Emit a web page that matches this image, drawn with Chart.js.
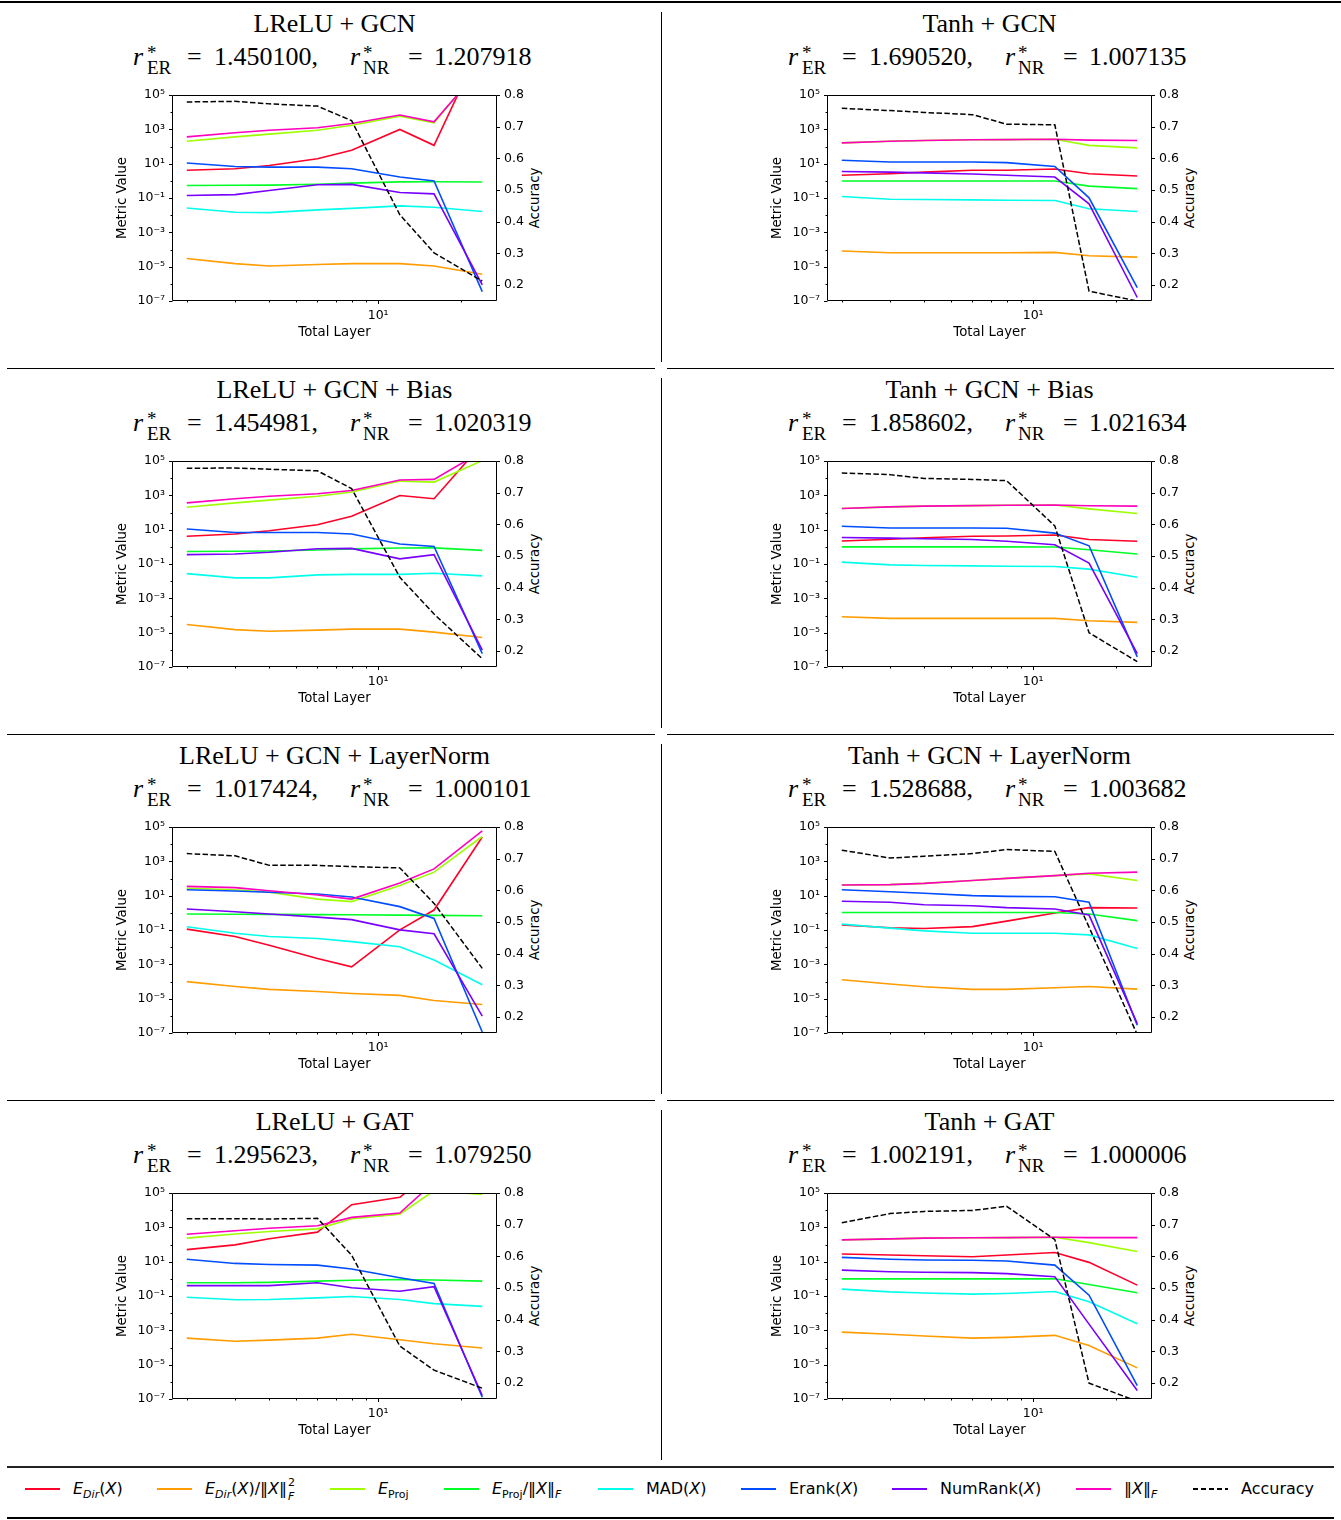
<!DOCTYPE html>
<html>
<head>
<meta charset="utf-8">
<script src="https://cdn.jsdelivr.net/npm/chart.js@4.4.1/dist/chart.umd.min.js"></script>
<style>
html,body{margin:0;padding:0;background:#fff;}
body{width:1341px;height:1520px;position:relative;overflow:hidden;font-family:"DejaVu Sans",sans-serif;color:#000;}
.rule{position:absolute;background:#000;}
.ttl{position:absolute;font-family:"Liberation Serif",serif;font-size:26px;white-space:nowrap;line-height:30px;height:30px;text-align:center;width:400px;}
.rl{position:absolute;font-family:"Liberation Serif",serif;font-size:26px;white-space:nowrap;line-height:30px;}
.sb{position:absolute;font-family:"Liberation Serif",serif;font-size:19px;line-height:20px;white-space:nowrap;}
.acc{position:absolute;font-size:13.3px;line-height:16px;white-space:nowrap;transform:translate(-50%,-50%) rotate(-90deg);}
canvas{position:absolute;}
.lg{position:absolute;font-size:16px;line-height:20px;white-space:nowrap;}
.lg sub{font-size:11px;vertical-align:-4px;line-height:0;}
.st{display:inline-block;position:relative;width:9px;height:14px;}
.st .p{position:absolute;left:1px;top:-7px;font-size:11px;}
.st .q{position:absolute;left:1px;top:7px;font-size:11px;font-style:italic;}
.ln{position:absolute;height:1.6px;width:35px;}
</style>
</head>
<body>
<script>
// ---------------- data ----------------
const LAYERS = [2, 3, 4, 6, 8, 12, 16, 24];
const PANEL_TITLES = ['LReLU + GCN', 'Tanh + GCN', 'LReLU + GCN + Bias', 'Tanh + GCN + Bias',
  'LReLU + GCN + LayerNorm', 'Tanh + GCN + LayerNorm', 'LReLU + GAT', 'Tanh + GAT'];
const R_ER = ['1.450100', '1.690520', '1.454981', '1.858602', '1.017424', '1.528688', '1.295623', '1.002191'];
const R_NR = ['1.207918', '1.007135', '1.020319', '1.021634', '1.000101', '1.003682', '1.079250', '1.000006'];
const X_TICKS = [2, 3, 4, 5, 6, 7, 8, 9, 10, 20];
const Y_DECADES = [-7, -6, -5, -4, -3, -2, -1, 0, 1, 2, 3, 4, 5];
const ACC_TICKS = [0.2, 0.3, 0.4, 0.5, 0.6, 0.7, 0.8];

const E_DIR = [
  [4.1, 5.1, 7.9, 19.5, 60, 980, 117, 1.1e8],
  [2.1, 2.6, 3.2, 4.1, 4.1, 4.9, 2.6, 1.9],
  [4.1, 5.6, 8.7, 19.5, 60, 980, 630, 1.0e6],
  [2.2, 2.75, 3.4, 4.1, 4.3, 4.9, 2.7, 2.1],
  [0.112, 0.042, 0.0129, 0.0022, 7.2e-4, 0.102, 1.45, 2.6e4],
  [0.2, 0.135, 0.123, 0.158, 0.33, 0.98, 2.0, 1.9],
  [50, 95, 214, 525, 2.1e4, 5.6e4, 2.3e6, 3.2e7],
  [28, 24.5, 22, 19.5, 24.5, 34, 9.1, 0.43]
];
const E_DIR_NORM = [
  [3.0e-5, 1.5e-5, 1.1e-5, 1.35e-5, 1.5e-5, 1.5e-5, 1.1e-5, 3.6e-6],
  [8.1e-5, 6.5e-5, 6.5e-5, 6.5e-5, 6.5e-5, 6.8e-5, 4.3e-5, 3.6e-5],
  [3.0e-5, 1.5e-5, 1.2e-5, 1.4e-5, 1.6e-5, 1.6e-5, 1.07e-5, 5.2e-6],
  [8.5e-5, 6.8e-5, 6.8e-5, 6.8e-5, 6.8e-5, 6.8e-5, 4.9e-5, 4.0e-5],
  [9.8e-5, 5.1e-5, 3.5e-5, 2.6e-5, 2.0e-5, 1.55e-5, 7.8e-6, 4.6e-6],
  [1.26e-4, 7.1e-5, 4.9e-5, 3.5e-5, 3.5e-5, 4.3e-5, 5.1e-5, 3.6e-5],
  [3.5e-4, 2.3e-4, 2.7e-4, 3.5e-4, 5.9e-4, 2.8e-4, 1.66e-4, 9.3e-5],
  [7.9e-4, 5.9e-4, 4.7e-4, 3.5e-4, 3.9e-4, 5.1e-4, 1.3e-4, 6.5e-6]
];
const E_PROJ = [
  [204, 363, 525, 891, 1740, 5900, 2400, 5.5e6],
  [162, 204, 224, 245, 251, 263, 117, 83],
  [204, 363, 525, 891, 1550, 6760, 5900, 1.05e5],
  [170, 214, 234, 251, 263, 275, 162, 87],
  [27, 22, 15.8, 6.3, 4.5, 39, 234, 2.8e4],
  [42, 44, 52, 76, 102, 148, 186, 76],
  [234, 407, 575, 813, 3160, 5900, 1.36e5, 8.1e4],
  [186, 214, 234, 245, 251, 263, 129, 39]
];
const E_PROJ_NORM = [
  [0.54, 0.55, 0.56, 0.63, 0.74, 0.87, 0.89, 0.85],
  [0.98, 0.98, 0.98, 0.98, 0.98, 0.98, 0.49, 0.35],
  [0.54, 0.55, 0.57, 0.66, 0.76, 0.85, 0.87, 0.62],
  [1.0, 1.0, 1.0, 1.0, 0.99, 0.98, 0.68, 0.38],
  [0.85, 0.83, 0.81, 0.79, 0.78, 0.74, 0.71, 0.68],
  [1.05, 1.05, 1.05, 1.05, 1.05, 1.05, 0.85, 0.35],
  [0.59, 0.59, 0.62, 0.74, 0.83, 0.91, 0.85, 0.74],
  [1.0, 1.0, 1.0, 1.0, 1.0, 1.0, 0.47, 0.155]
];
const MAD = [
  [0.026, 0.0148, 0.0141, 0.0204, 0.025, 0.0347, 0.0288, 0.0162],
  [0.123, 0.085, 0.081, 0.078, 0.074, 0.071, 0.0234, 0.0162],
  [0.0275, 0.0155, 0.0155, 0.0234, 0.025, 0.025, 0.0288, 0.0204],
  [0.129, 0.089, 0.081, 0.078, 0.074, 0.071, 0.05, 0.017],
  [0.155, 0.065, 0.042, 0.032, 0.021, 0.0107, 0.0018, 6.5e-5],
  [0.22, 0.129, 0.089, 0.065, 0.065, 0.065, 0.052, 0.0083],
  [0.085, 0.06, 0.063, 0.078, 0.093, 0.063, 0.036, 0.025],
  [0.25, 0.174, 0.151, 0.129, 0.141, 0.182, 0.046, 0.00245]
];
const ERANK = [
  [11, 6.9, 6.3, 6.3, 5.1, 1.66, 0.98, 3.5e-7],
  [15.8, 12.6, 12.6, 12.6, 11.5, 6.9, 0.102, 6.0e-7],
  [11, 6.9, 6.9, 6.9, 5.6, 1.45, 1.05, 6.0e-7],
  [15.8, 12.6, 12.6, 12.6, 12, 6.3, 1.15, 3.9e-7],
  [22, 18.6, 15.8, 12.6, 8.3, 2.3, 0.47, 1.15e-7],
  [22, 17, 13.8, 10, 9.1, 8.7, 4.1, 2.8e-7],
  [13.8, 7.9, 6.9, 6.3, 3.7, 1.15, 0.54, 1.26e-7],
  [17.8, 13.8, 12.6, 12, 11, 6.3, 0.112, 6.0e-7]
];
const NUMRANK = [
  [0.141, 0.158, 0.275, 0.59, 0.62, 0.21, 0.174, 8.7e-7],
  [3.5, 3.2, 2.9, 2.5, 2.1, 1.66, 0.046, 1.6e-7],
  [0.35, 0.38, 0.48, 0.78, 0.81, 0.2, 0.35, 9.5e-7],
  [3.5, 3.2, 2.95, 2.7, 2.1, 1.32, 0.112, 6.0e-7],
  [1.66, 1.15, 0.85, 0.56, 0.4, 0.102, 0.06, 9.5e-7],
  [4.7, 4.1, 2.95, 2.6, 2.0, 1.66, 0.74, 3.5e-7],
  [0.4, 0.4, 0.4, 0.59, 0.3, 0.19, 0.35, 1.6e-7],
  [3.2, 2.6, 2.4, 2.3, 2.0, 1.32, 0.0023, 3.1e-7]
];
const FRO_NORM = [
  [363, 631, 891, 1230, 2190, 6760, 2750, 4.8e6],
  [162, 204, 224, 245, 251, 263, 234, 224],
  [363, 631, 891, 1230, 1900, 7760, 8500, 3.7e5],
  [170, 214, 234, 251, 263, 275, 245, 234],
  [35, 29.5, 19.5, 11, 6.3, 55, 363, 5.9e4],
  [42, 44, 52, 76, 102, 148, 204, 234],
  [398, 631, 891, 1230, 3800, 6760, 4.4e5, 1e6],
  [186, 214, 234, 245, 251, 263, 251, 251]
];
const ACCURACY = [
  [0.778, 0.780, 0.772, 0.765, 0.719, 0.422, 0.302, 0.213],
  [0.758, 0.751, 0.745, 0.738, 0.708, 0.706, 0.181, 0.150],
  [0.777, 0.778, 0.774, 0.769, 0.713, 0.433, 0.317, 0.176],
  [0.762, 0.757, 0.745, 0.742, 0.738, 0.595, 0.258, 0.167],
  [0.716, 0.709, 0.679, 0.679, 0.675, 0.671, 0.559, 0.354],
  [0.727, 0.702, 0.708, 0.716, 0.729, 0.723, 0.484, 0.145],
  [0.719, 0.719, 0.718, 0.720, 0.604, 0.317, 0.241, 0.184],
  [0.706, 0.735, 0.742, 0.745, 0.758, 0.653, 0.200, 0.143]
];
const SERIES_NAMES = ['E_Dir(X)', 'E_Dir(X)/||X||_F^2', 'E_Proj', 'E_Proj/||X||_F', 'MAD(X)', 'Erank(X)', 'NumRank(X)', '||X||_F', 'Accuracy'];
const SERIES_DATA = [E_DIR, E_DIR_NORM, E_PROJ, E_PROJ_NORM, MAD, ERANK, NUMRANK, FRO_NORM];
const COLORS = ['#ff0029', '#ff9c00', '#9dff00', '#00ff27', '#00ffeb', '#004dff', '#7800ff', '#ff00bf'];

// ---------------- page helpers ----------------
function add(cls, html, left, top, extra) {
  const d = document.createElement('div');
  d.className = cls;
  d.innerHTML = html;
  d.style.left = left + 'px';
  d.style.top = top + 'px';
  if (extra) Object.assign(d.style, extra);
  document.body.appendChild(d);
  return d;
}
function rule(l, t, w, h, col) {
  add('rule', '', l, t, {width: w + 'px', height: h + 'px', background: col || '#000'});
}

const SUP = {'-': '\u207b', '0': '\u2070', '1': '\u00b9', '2': '\u00b2', '3': '\u00b3', '4': '\u2074', '5': '\u2075', '6': '\u2076', '7': '\u2077', '8': '\u2078', '9': '\u2079'};
function pow10Label(e) { return '10' + String(e).split('').map(ch => SUP[ch]).join(''); }

Chart.defaults.font.family = '"DejaVu Sans", sans-serif';
Chart.defaults.color = '#000';

const framePlugin = {
  id: 'frame',
  afterDraw(chart) {
    const {ctx, chartArea: a, scales} = chart;
    ctx.save();
    ctx.strokeStyle = '#000';
    ctx.lineWidth = 1;
    const L = Math.round(a.left) + 0.5, R = Math.round(a.right) - 0.5;
    const T = Math.round(a.top) + 0.5, B = Math.round(a.bottom) - 0.5;
    ctx.beginPath();
    ctx.rect(L, T, R - L, B - T);
    X_TICKS.forEach(v => {
      const px = Math.round(scales.x.getPixelForValue(v)) + 0.5;
      const len = v === 10 ? 3.5 : 2;
      ctx.moveTo(px, B); ctx.lineTo(px, B + len);
    });
    Y_DECADES.forEach(e => {
      const py = Math.round(scales.y.getPixelForValue(Math.pow(10, e))) + 0.5;
      const len = (e % 2 !== 0) ? 3.5 : 2;
      ctx.moveTo(L, py); ctx.lineTo(L - len, py);
    });
    ACC_TICKS.forEach(v => {
      const py = Math.round(scales.y2.getPixelForValue(v)) + 0.5;
      ctx.moveTo(R, py); ctx.lineTo(R + 3.5, py);
    });
    ctx.stroke();
    ctx.restore();
  }
};

const XMIN = 1.766, XMAX = 27.17;
const hiddenGrid = {display: true, drawOnChartArea: false, drawTicks: true, tickLength: 3.5, color: 'rgba(0,0,0,0)', tickColor: 'rgba(0,0,0,0)'};

function makePanel(p) {
  const r = Math.floor(p / 2), c = p % 2;
  const ox = 655 * c, oy = 366 * r;

  add('ttl', PANEL_TITLES[p], 334.5 + ox - 200, 9 + oy);
  add('rl', '<i>r</i>', 133 + ox, 42 + oy);
  add('sb', '*', 147 + ox, 43 + oy);
  add('sb', 'ER', 147 + ox, 58 + oy);
  add('rl', '=', 187 + ox, 42 + oy);
  add('rl', R_ER[p] + ',', 214 + ox, 42 + oy);
  add('rl', '<i>r</i>', 350 + ox, 42 + oy);
  add('sb', '*', 363 + ox, 43 + oy);
  add('sb', 'NR', 363 + ox, 58 + oy);
  add('rl', '=', 408 + ox, 42 + oy);
  add('rl', R_NR[p], 434 + ox, 42 + oy);
  add('acc', 'Accuracy', 535 + ox, 198 + oy);

  const cv = document.createElement('canvas');
  cv.width = 460; cv.height = 270;
  cv.style.left = (100 + ox) + 'px';
  cv.style.top = (80 + oy) + 'px';
  cv.style.width = '460px'; cv.style.height = '270px';
  document.body.appendChild(cv);

  const datasets = SERIES_DATA.map((arr, i) => ({
    label: SERIES_NAMES[i],
    data: LAYERS.map((x, j) => ({x: x, y: arr[p][j]})),
    borderColor: COLORS[i], backgroundColor: COLORS[i],
    borderWidth: 1.6, pointRadius: 0, tension: 0, fill: false,
    xAxisID: 'x', yAxisID: 'y', order: 20 - i, clip: 0
  }));
  datasets.push({
    label: SERIES_NAMES[8],
    data: LAYERS.map((x, j) => ({x: x, y: ACCURACY[p][j]})),
    borderColor: '#000', backgroundColor: '#000', borderDash: [5.5, 2.4],
    borderWidth: 1.5, pointRadius: 0, tension: 0, fill: false,
    xAxisID: 'x', yAxisID: 'y2', order: 0, clip: 0
  });

  new Chart(cv, {
    type: 'line',
    data: {datasets},
    plugins: [framePlugin],
    options: {
      responsive: false, animation: false, devicePixelRatio: 1,
      layout: {padding: {top: 15, left: 0, right: 0, bottom: 0}},
      plugins: {legend: {display: false}, tooltip: {enabled: false}},
      scales: {
        x: {
          type: 'logarithmic', position: 'bottom', min: XMIN, max: XMAX,
          afterBuildTicks: s => { s.ticks = X_TICKS.map(v => ({value: v})); },
          afterFit: s => { s.height = 49; },
          ticks: {autoSkip: false, maxRotation: 0, minRotation: 0, padding: 3.5, color: '#000',
            font: {size: 12.5}, callback: v => (v === 10 ? pow10Label(1) : '')},
          grid: hiddenGrid, border: {display: false},
          title: {display: true, text: 'Total Layer', color: '#000', font: {size: 13.3}, padding: {top: 0, bottom: 9}}
        },
        y: {
          type: 'logarithmic', position: 'left', min: 1e-7, max: 1e5,
          afterBuildTicks: s => { s.ticks = Y_DECADES.map(e => ({value: Math.pow(10, e)})); },
          afterFit: s => { s.width = 72; },
          ticks: {autoSkip: false, padding: 3.5, color: '#000', font: {size: 12.5},
            callback: v => { const e = Math.round(Math.log10(v)); return (e % 2 !== 0) ? pow10Label(e) : ''; }},
          grid: hiddenGrid, border: {display: false},
          title: {display: true, text: 'Metric Value', color: '#000', font: {size: 13.3}, padding: {top: 14.7, bottom: 0}}
        },
        y2: {
          type: 'linear', position: 'right', min: 0.15, max: 0.8,
          afterBuildTicks: s => { s.ticks = ACC_TICKS.map(v => ({value: v})); },
          afterFit: s => { s.width = 63; },
          ticks: {autoSkip: false, padding: 3.5, color: '#000', font: {size: 12.5},
            callback: v => Number(v).toFixed(1)},
          grid: hiddenGrid, border: {display: false}
        }
      }
    }
  });
}

rule(0, 1, 1341, 2);
[368, 734, 1100].forEach(y => { rule(7, y, 648, 1); rule(667, y, 667, 1); });
for (let r = 0; r < 4; r++) rule(661, 12 + 366 * r, 1, 350);
rule(7, 1466, 1327, 1.5, '#222');
rule(7, 1517, 1327, 2);

for (let p = 0; p < 8; p++) makePanel(p);

const LEGEND_HTML = [
  '<i>E</i><sub><i>Dir</i></sub>(<i>X</i>)',
  '<i>E</i><sub><i>Dir</i></sub>(<i>X</i>)/\u2016<i>X</i>\u2016<span class="st"><span class="p">2</span><span class="q">F</span></span>',
  '<i>E</i><sub>Proj</sub>',
  '<i>E</i><sub>Proj</sub>/\u2016<i>X</i>\u2016<sub><i>F</i></sub>',
  'MAD(<i>X</i>)',
  'Erank(<i>X</i>)',
  'NumRank(<i>X</i>)',
  '\u2016<i>X</i>\u2016<sub><i>F</i></sub>',
  'Accuracy'
];
const LEG_LINE_X = [25, 157, 330, 444, 598, 741, 892, 1076, 1193];
LEGEND_HTML.forEach((h, i) => {
  const lx = LEG_LINE_X[i];
  if (i < 8) {
    add('ln', '', lx, 1488, {background: COLORS[i]});
  } else {
    add('ln', '', lx, 1488, {background: 'repeating-linear-gradient(to right,#000 0 5.5px,rgba(0,0,0,0) 5.5px 8px)'});
  }
  add('lg', h, lx + 48, 1479);
});
</script>
</body>
</html>
